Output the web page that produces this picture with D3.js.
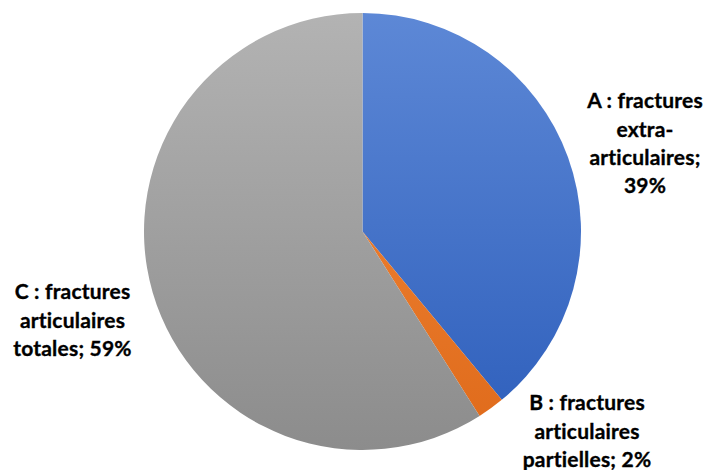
<!DOCTYPE html>
<html>
<head>
<meta charset="utf-8">
<script src="https://cdn.jsdelivr.net/npm/d3@7"></script>
<style>
  html, body { margin: 0; padding: 0; background: #ffffff; }
  svg { display: block; }
  text { font-family: Lato, "Open Sans", sans-serif; font-weight: 700; fill: #000; }
</style>
</head>
<body>
<script>
// Fracture types and their shares (%)
const categories = ["A : fractures extra-articulaires", "B : fractures articulaires partielles", "C : fractures articulaires totales"];
const shares = [39, 2, 59];
// Label text, broken into lines
const labelLines = [
  ["A : fractures", "extra-", "articulaires;", "39%"],
  ["B : fractures", "articulaires", "partielles; 2%"],
  ["C : fractures", "articulaires", "totales; 59%"]
];

const W = 711, H = 470;
const cx = 362.5, cy = 231.5, R = 218.5;

// Slice fills: light at the top, darker at the bottom
const fills = [
  { top: "#5d88d6", bottom: "#2d5ebb" },
  { top: "#f38b3e", bottom: "#df6a1a" },
  { top: "#b3b3b3", bottom: "#8c8c8c" }
];
// Label block centres (first-line centre) and line spacing
const labelPos = [
  { x: 645, y: 101 },
  { x: 587, y: 403 },
  { x: 72.5, y: 292 }
];
const lineGap = 28.2;
const fontSize = 21;

const svg = d3.select("body").append("svg")
  .attr("width", W).attr("height", H);

// Gradients in the pie group's own coordinates (centred on the pie)
const defs = svg.append("defs");
fills.forEach((f, i) => {
  const g = defs.append("linearGradient")
    .attr("id", "grad" + i)
    .attr("gradientUnits", "userSpaceOnUse")
    .attr("x1", 0).attr("x2", 0)
    .attr("y1", -R).attr("y2", R);
  g.append("stop").attr("offset", "0%").attr("stop-color", f.top);
  g.append("stop").attr("offset", "100%").attr("stop-color", f.bottom);
});

const data = categories.map((c, i) => ({ name: c, value: shares[i], idx: i }));

const pie = d3.pie().sort(null).value(d => d.value)
  .startAngle(0).endAngle(2 * Math.PI);
const arc = d3.arc().innerRadius(0).outerRadius(R);

const g = svg.append("g").attr("transform", `translate(${cx},${cy})`);
g.selectAll("path.slice")
  .data(pie(data))
  .join("path")
  .attr("class", "slice")
  .attr("d", arc)
  .attr("fill", d => `url(#grad${d.data.idx})`);

// Data labels (a hairline stroke gives the heavier bold look)
const labels = svg.selectAll("text.lbl")
  .data(data)
  .join("text")
  .attr("class", "lbl")
  .attr("text-anchor", "middle")
  .attr("font-size", fontSize)
  .attr("letter-spacing", 0.2)
  .attr("stroke", "#000")
  .attr("stroke-width", 0.35);

labels.each(function(d) {
  const t = d3.select(this);
  const p = labelPos[d.idx];
  labelLines[d.idx].forEach((line, k) => {
    t.append("tspan")
      .attr("x", p.x)
      .attr("y", p.y + k * lineGap)
      .attr("dy", "0.35em")
      .text(line);
  });
});
</script>
</body>
</html>
